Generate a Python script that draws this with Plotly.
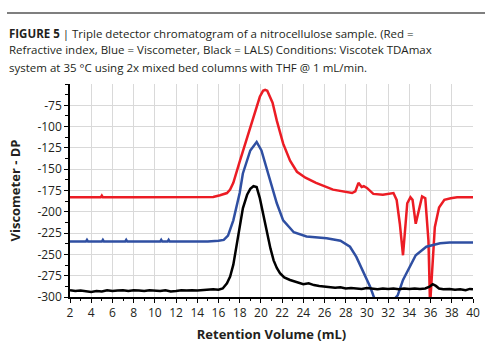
import plotly.graph_objects as go

# Refractive index trace (red)
ri_x = [2, 4, 4.9, 5.0, 5.1, 8, 12, 15, 15.5, 16.15, 16.8, 17.1, 17.4, 18.0, 18.7, 19.3, 19.9,
        20.2, 20.4, 20.6, 20.85, 21.1, 21.5, 22.1, 22.75, 23.4, 24.2, 25.2, 26.8, 28.0, 28.6,
        28.9, 29.2, 29.5, 29.7, 30.0, 30.3, 30.6, 31.5, 32.2, 32.5, 32.8, 33.1, 33.4, 33.6,
        33.8, 34.1, 34.3, 34.6, 34.9, 35.2, 35.5, 35.8, 35.95, 36.2, 36.4, 36.8, 37.3, 37.9,
        38.5, 40]
ri_y = [-183, -183, -183, -181, -183, -183, -183, -183, -182.5, -180.5, -178, -174, -166, -141,
        -112, -89, -65, -58, -57, -58, -65, -72, -93, -120, -140, -153, -160, -166, -174, -177,
        -178, -176, -166, -171, -170, -172, -175, -179, -180, -179, -178, -186, -214, -251,
        -214, -190, -183, -186, -214, -198, -182, -184, -234, -310, -265, -218, -195, -186,
        -184, -183, -183]

# Viscometer trace (blue)
visc_x = [2, 3.5, 3.6, 3.7, 5, 5.1, 5.2, 7.2, 7.3, 7.4, 10.5, 10.6, 10.7, 11.2, 11.3, 11.4, 12,
          15, 16, 16.5, 16.9, 17.4, 18.0, 18.3, 19.0, 19.6, 20.05, 20.5, 21.0, 21.5, 22.1, 23.1,
          24.3, 26.2, 27.5, 28.4, 29.0, 29.6, 30.3, 30.8, 31.5, 32.2, 32.9, 33.4, 34.1, 34.6,
          35.6, 36.9, 37.8, 40]
visc_y = [-235, -235, -233, -235, -235, -233, -235, -235, -233, -235, -235, -233, -235, -235,
          -233, -235, -235, -235, -234, -233, -228, -210, -178, -155, -128, -118, -128, -147,
          -171, -190, -210, -224, -229, -231, -234, -241, -253, -269, -288, -305, -315, -308,
          -298, -280, -263, -251, -241, -237, -236, -236]

# Low-angle light scattering trace (black)
lals_x = [2, 2.5, 3, 3.5, 4, 4.5, 5, 5.5, 6, 6.5, 7, 7.5, 8, 8.5, 9, 9.5, 10, 10.5, 11, 11.5,
          12, 12.5, 13, 13.5, 14, 14.5, 15, 15.5, 16, 16.4, 16.8, 17.1, 17.4, 17.7, 18.0, 18.3,
          18.7, 19.0, 19.3, 19.6, 19.9, 20.2, 20.6, 20.9, 21.2, 21.5, 21.8, 22.2, 22.75, 23.3,
          24, 24.5, 25, 25.5, 26.2, 27, 27.5, 28, 28.5, 29, 29.5, 30, 30.5, 31, 31.5, 32, 32.5,
          33, 33.5, 34, 34.5, 35, 35.5, 35.9, 36.2, 36.5, 36.8, 37.2, 37.8, 38.3, 38.8, 39.3,
          39.7, 40]
lals_y = [-292, -293, -292.5, -293.5, -294, -293, -293.5, -292, -293, -292.5, -292, -293, -292,
          -292.5, -293, -292, -292.5, -293, -292, -293.5, -293, -292, -292.5, -292, -292.5,
          -292, -291.5, -291, -291.5, -290, -284, -276, -262, -241, -218, -196, -180, -173,
          -170, -171, -184, -203, -225, -243, -257, -266, -272, -277, -280, -282, -285, -284,
          -286, -287, -288, -289, -288.5, -290, -289.5, -290, -290.5, -289.5, -290, -291, -290,
          -290.5, -290, -291, -290, -290.5, -290, -290.5, -290, -288, -285, -287, -290, -291,
          -290.5, -291.5, -291, -292, -290.5, -291]

x_ticks = list(range(2, 41, 2))
y_ticks = [-300, -275, -250, -225, -200, -175, -150, -125, -100, -75]

caption_lines = [
    "<b>FIGURE 5</b> | Triple detector chromatogram of a nitrocellulose sample. (Red =",
    "Refractive index, Blue = Viscometer, Black = LALS) Conditions: Viscotek TDAmax",
    "system at 35 °C using 2x mixed bed columns with THF @ 1 mL/min.",
]

fig = go.Figure()
fig.add_trace(go.Scatter(x=ri_x, y=ri_y, mode="lines", line=dict(color="#ec1c24", width=2.5)))
fig.add_trace(go.Scatter(x=visc_x, y=visc_y, mode="lines", line=dict(color="#2f4fa2", width=2.5)))
fig.add_trace(go.Scatter(x=lals_x, y=lals_y, mode="lines", line=dict(color="#000000", width=2.5)))

font_family = "Open Sans"

# Plot area in pixels: x 70..473, y 84..297
PL, PR, PT, PB = 70, 473, 84, 297
PW, PH = PR - PL, PB - PT

fig.update_layout(
    width=500, height=348,
    margin=dict(l=PL, r=500 - PR, t=PT, b=348 - PB),
    paper_bgcolor="white", plot_bgcolor="white",
    showlegend=False,
    font=dict(family=font_family, color="#231f20", size=12),
    xaxis=dict(
        range=[2, 40], tickvals=x_ticks, ticktext=[str(v) for v in x_ticks],
        automargin=False,
        showgrid=True, gridcolor="#d9d9d9", gridwidth=1,
        showline=True, linecolor="#000000", linewidth=1.5,
        ticks="outside", ticklen=4, tickcolor="#000000",
        minor=dict(dtick=1, tick0=2, ticks="outside", ticklen=2, tickcolor="#000000", showgrid=False),
        zeroline=False,
        tickfont=dict(size=12, color="#231f20"),
        title=dict(text="<b>Retention Volume (mL)</b>", font=dict(size=13, color="#231f20"), standoff=10),
    ),
    yaxis=dict(
        range=[-300, -50], tickvals=y_ticks, ticktext=[str(v) for v in y_ticks],
        automargin=False,
        showgrid=True, gridcolor="#d9d9d9", gridwidth=1,
        showline=True, linecolor="#000000", linewidth=1.5,
        ticks="outside", ticklen=4, tickcolor="#000000",
        minor=dict(dtick=12.5, tick0=-300, ticks="outside", ticklen=3, tickcolor="#000000", showgrid=False),
        zeroline=False,
        tickfont=dict(size=12, color="#231f20"),
        title=dict(text="<b>Viscometer - DP</b>", font=dict(size=13, color="#231f20"), standoff=14),
    ),
)

# Rule above the caption
fig.add_shape(type="line", xref="paper", yref="paper",
              x0=(7 - PL) / PW, x1=(485 - PL) / PW,
              y0=(PB - 13) / PH, y1=(PB - 13) / PH,
              line=dict(color="#555555", width=1.5))

for i, line in enumerate(caption_lines):
    fig.add_annotation(
        text=line, xref="paper", yref="paper",
        x=(7 - PL) / PW, y=(PB - (33 + 17 * i)) / PH,
        xanchor="left", yanchor="middle", showarrow=False,
        font=dict(family=font_family, size=11.5, color="#231f20"),
    )

fig.write_html("out.html")
